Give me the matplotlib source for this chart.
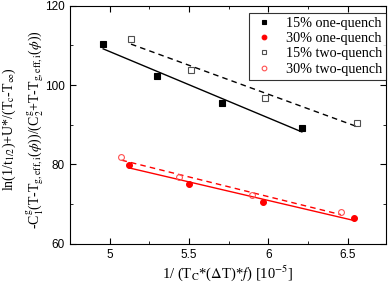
import numpy as np
import matplotlib.pyplot as plt
from matplotlib.ticker import MultipleLocator

plt.rcParams['mathtext.fontset'] = 'stix'

# 15% one-quench
x15_one = [4.96, 5.30, 5.71, 6.21]
y15_one = [110.3, 102.4, 95.5, 89.1]
# 30% one-quench
x30_one = [5.125, 5.50, 5.965, 6.54]
y30_one = [79.8, 75.0, 70.5, 66.4]
# 15% two-quench
x15_two = [5.135, 5.515, 5.98, 6.555]
y15_two = [111.5, 103.8, 96.8, 90.5]
# 30% two-quench
x30_two = [5.075, 5.44, 5.895, 6.455]
y30_two = [81.8, 76.8, 72.2, 67.9]

series = [
    (x15_one, y15_one, '15% one-quench', 's', 'black', 'black', '-'),
    (x30_one, y30_one, '30% one-quench', 'o', 'red', 'red', '-'),
    (x15_two, y15_two, '15% two-quench', 's', 'none', '#505050', '--'),
    (x30_two, y30_two, '30% two-quench', 'o', 'none', '#ff5050', '--'),
]
line_colors = ['black', 'red', 'black', 'red']

fig = plt.figure(figsize=(3.9, 2.87), dpi=100)
ax = fig.add_axes([0.179, 0.151, 0.811, 0.829])

for (xs, ys, lab, mk, fc, ec, ls), lc in zip(series, line_colors):
    xs = np.array(xs)
    k, b = np.polyfit(xs, ys, 1)
    xf = np.array([xs.min(), xs.max()])
    ax.plot(xf, k * xf + b, color=lc, ls=ls, lw=1.0, dashes=(4, 3) if ls == '--' else (None, None))
    ax.plot(xs, ys, ls='none', marker=mk, markersize=4.2, markerfacecolor=fc,
            markeredgecolor=ec, markeredgewidth=0.8, label=lab)

ax.set_xlim(4.75, 6.74)
ax.set_ylim(60, 120)
ax.xaxis.set_major_locator(MultipleLocator(0.5))
ax.xaxis.set_minor_locator(MultipleLocator(0.25))
ax.yaxis.set_major_locator(MultipleLocator(20))
ax.yaxis.set_minor_locator(MultipleLocator(10))
ax.set_xticks([5, 5.5, 6, 6.5])
ax.set_xticklabels(['5', '5.5', '6', '6.5'])
ax.tick_params(which='both', direction='in', top=True, right=True, labelsize=8.5)
ax.tick_params(which='major', length=4)
ax.tick_params(which='minor', length=2.5)
for lbl in ax.get_xticklabels() + ax.get_yticklabels():
    lbl.set_family('Liberation Sans')

ax.set_xlabel(r'1/ (T$_\mathrm{C}$*($\Delta$T)*$f$) [10$^{-5}$]', family='Liberation Serif', fontsize=10.5, labelpad=2)
ax.set_ylabel('ln(1/t$_{\\mathrm{1/2}}$)+U*/(T$_\\mathrm{c}$-T$_{\\infty}$)\n'
              '-C$_\\mathrm{1}^\\mathrm{g}$(T-T$_\\mathrm{g,eff,i}$($\\phi$))/(C$_\\mathrm{2}^\\mathrm{g}$+T-T$_\\mathrm{g,eff,i}$($\\phi$))',
              family='Liberation Serif', fontsize=10.0, linespacing=1.5)
ax.yaxis.set_label_coords(-0.075, 0.48)

leg = ax.legend(loc='upper right', bbox_to_anchor=(1.0, 0.97), prop={'family': 'Liberation Serif', 'size': 10.2},
                frameon=True, fancybox=False, edgecolor='black', handlelength=1.5,
                borderpad=0.3, labelspacing=0.15, handletextpad=0.8, borderaxespad=0.0, markerscale=0.8)
leg.get_frame().set_linewidth(0.8)

fig.savefig('out.png', dpi=100)
